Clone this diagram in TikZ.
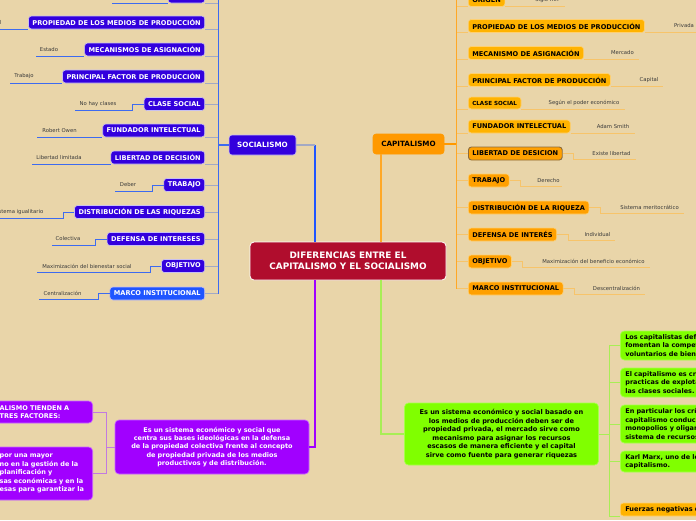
\documentclass[tikz,border=0pt]{standalone}
\usepackage{fontspec}
\setmainfont{DejaVu Sans}
\usepackage{xcolor}
\definecolor{Hgrund}{HTML}{E9D5A9}
\definecolor{Zentral}{HTML}{B00D2D}
\definecolor{SozBlau}{HTML}{3300DD}
\definecolor{SozHell}{HTML}{1F55FF}
\definecolor{SozRand}{HTML}{C8C0F0}
\definecolor{SozLinie}{HTML}{3D6BF0}
\definecolor{SozGrau}{HTML}{A3A9C4}
\definecolor{KapOrange}{HTML}{FF9900}
\definecolor{KapGelb}{HTML}{FFB300}
\definecolor{KapSpaet}{HTML}{FFA000}
\definecolor{KapRand}{HTML}{FFD070}
\definecolor{KapLinie}{HTML}{F7C46A}
\definecolor{KapDunkel}{HTML}{8A6A3C}
\definecolor{Lila}{HTML}{A100FF}
\definecolor{LilaLinie}{HTML}{C27AE0}
\definecolor{Gruen}{HTML}{80FF00}
\definecolor{GruenLinie}{HTML}{A8EE55}
\definecolor{WertText}{HTML}{3A3A3A}

\begin{document}
\begin{tikzpicture}[x=1pt, y=-1pt,
  zweig/.style={rounded corners=3pt, inner xsep=4pt, inner ysep=0pt, minimum height=13pt,
    font=\fontsize{6.6}{8}\selectfont\bfseries, line width=0.6pt},
  sozbox/.style={zweig, fill=SozBlau, draw=SozRand, text=white},
  kapbox/.style={zweig, fill=KapGelb, draw=KapRand, text=black},
  kapspaet/.style={fill=KapSpaet},
  klein/.style={font=\fontsize{5.6}{7}\selectfont\bfseries, minimum height=12pt},
  wert/.style={font=\fontsize{5.3}{6}\selectfont, text=WertText, inner sep=0pt},
  sozlinie/.style={draw=SozLinie, line width=0.8pt},
  sozgrau/.style={draw=SozGrau, line width=0.8pt},
  kaplinie/.style={draw=KapLinie, line width=0.8pt},
  textbox/.style={rounded corners=4pt, line width=0.7pt, inner xsep=4pt, inner ysep=2pt,
    font=\fontsize{6.5}{8.4}\selectfont\bfseries},
  lila/.style={textbox, fill=Lila, draw=Lila!60!white, text=white},
  gruen/.style={textbox, fill=Gruen, draw=Gruen!70!white, text=black}]

  % Rahmen und Hintergrund
  \useasboundingbox (0,0) rectangle (696,520);
  \clip (0,0) rectangle (696,520);
  \fill[Hgrund] (0,0) rectangle (696,520);

  % Hauptknoten
  \node[fill=Zentral, draw=white, line width=0.8pt, rounded corners=4pt, minimum width=196pt,
    minimum height=38pt, text=white, align=center, font=\fontsize{8.9}{11.5}\selectfont\bfseries]
    (diff) at (348,261) {DIFERENCIAS ENTRE EL\\CAPITALISMO Y EL SOCIALISMO};
  \node[sozbox, minimum width=67pt, minimum height=20pt, font=\fontsize{7.2}{8}\selectfont\bfseries]
    (soz) at (262.5,145) {SOCIALISMO};
  \node[kapbox, fill=KapOrange, draw=KapOrange, minimum width=71pt, minimum height=20pt,
    font=\fontsize{7.2}{8}\selectfont\bfseries] (kap) at (408.5,144) {CAPITALISMO};

  \coordinate (sozspine) at (218,-5);
  \coordinate (kapspine) at (456,-5);

  % Makro: Zweig links, Linie unter dem Kasten
  % Parameter: 1=Name, 2=y-Mitte, 3=Kastentext, 4=Wert, 5=x Wert, 6=x Linienanfang, 7=Zusatzstil
  \def\sozunten#1#2#3#4#5#6#7{
    \node[sozbox, anchor=east, #7] (#1) at (205,#2) {#3};
    \node[wert] (#1w) at (#5,#2) {#4};
    \coordinate (#1a) at (#6,#2);
    \draw[sozlinie] (#1a |- #1.south) -- (#1.south west);
    \draw[sozgrau] (#1.south east) -- (#1.south east -| sozspine);
  }
  % Makro: Zweig links, Linie mit Knick
  \def\sozknick#1#2#3#4#5#6#7{
    \node[sozbox, anchor=east, #7] (#1) at (205,#2) {#3};
    \node[wert] (#1w) at (#5,#2) {#4};
    \coordinate (#1a) at (#6,#2+6);
    \coordinate (#1k) at ([xshift=-11pt, yshift=-6pt]#1.west);
    \draw[sozlinie] (#1a) -- (#1k) -- (#1k |- #1.west) -- (#1.west);
    \draw[sozgrau] (#1.east) -- (#1.east -| sozspine);
  }
  % Makro: Zweig rechts, Linie unter dem Kasten
  % Parameter: 1=Name, 2=y-Mitte, 3=Kastentext, 4=Wert, 5=x Wert, 6=x Linienende, 7=Zusatzstil
  \def\kapunten#1#2#3#4#5#6#7{
    \node[kapbox, anchor=west, #7] (#1) at (468,#2) {#3};
    \node[wert] (#1w) at (#5,#2) {#4};
    \coordinate (#1e) at (#6,#2);
    \draw[kaplinie] (#1.south west -| kapspine) -- (#1.south west);
    \draw[kaplinie] (#1.south east) -- (#1e |- #1.south);
  }
  % Makro: Zweig rechts, Linie mit Knick
  \def\kapknick#1#2#3#4#5#6#7{
    \node[kapbox, anchor=west, #7] (#1) at (468,#2) {#3};
    \node[wert] (#1w) at (#5,#2) {#4};
    \coordinate (#1e) at (#6,#2+6);
    \coordinate (#1k) at ([xshift=11pt, yshift=-6pt]#1.east);
    \draw[kaplinie] (#1.west -| kapspine) -- (#1.west);
    \draw[kaplinie] (#1.east) -- (#1k |- #1.east) -- (#1k) -- (#1e);
  }

  % Sozialismus
  \sozunten{sorig}{-3.5}{ORIGEN}{}{130}{112}{}
  \sozunten{sprop}{22.5}{PROPIEDAD DE LOS MEDIOS DE PRODUCCIÓN}{Estatal}{-8}{-5}{}
  \sozunten{smech}{49.5}{MECANISMOS DE ASIGNACIÓN}{Estado}{49}{36}{}
  \sozunten{sfakt}{76.5}{PRINCIPAL FACTOR DE PRODUCCIÓN}{Trabajo}{24}{10}{}
  \sozknick{sklas}{104}{CLASE SOCIAL}{No hay clases}{98}{75}{}
  \sozunten{sfund}{130.5}{FUNDADOR INTELECTUAL}{Robert Owen}{59.5}{37}{}
  \sozunten{sfrei}{157.5}{LIBERTAD DE DECISIÓN}{Libertad limitada}{59}{32}{}
  \sozknick{sarb}{185}{TRABAJO}{Deber}{128}{115}{}
  \sozknick{svert}{212}{DISTRIBUCIÓN DE LAS RIQUEZAS}{Sistema igualitario}{18.5}{-5}{}
  \sozknick{sdef}{239}{DEFENSA DE INTERESES}{Colectiva}{68}{52}{}
  \sozknick{sziel}{266}{OBJETIVO}{Maximización del bienestar social}{87}{37}{}
  \sozknick{smarco}{293.5}{MARCO INSTITUCIONAL}{Centralización}{62.5}{39}{fill=SozHell}
  \draw[sozlinie] (sozspine) -- (sozspine |- smarco.east);
  \draw[sozlinie, line width=1.4pt] (soz.west) -- (soz.west -| sozspine);

  % Kapitalismus
  \kapunten{korig}{0}{ORIGEN}{Siglo XIX}{547}{565}{}
  \kapunten{kprop}{26}{PROPIEDAD DE LOS MEDIOS DE PRODUCCIÓN}{Privada}{684}{700}{}
  \kapunten{kmech}{53}{MECANISMO DE ASIGNACIÓN}{Mercado}{622.5}{639}{}
  \kapunten{kfakt}{80}{PRINCIPAL FACTOR DE PRODUCCIÓN}{Capital}{649}{663}{}
  \kapunten{kklas}{103}{CLASE SOCIAL}{Según el poder económico}{584}{625}{klein}
  \kapunten{kfund}{126.5}{FUNDADOR INTELECTUAL}{Adam Smith}{613}{635}{}
  \kapknick{kfrei}{153.5}{LIBERTAD DE DESICION}{Existe libertad}{611.5}{636}{kapspaet, draw=KapDunkel, line width=0.9pt}
  \kapknick{karb}{180.5}{TRABAJO}{Derecho}{548.5}{562}{kapspaet}
  \kapknick{kvert}{207.5}{DISTRIBUCIÓN DE LA RIQUEZA}{Sistema meritocrático}{649.5}{684}{kapspaet}
  \kapknick{kdef}{234.5}{DEFENSA DE INTERÉS}{Individual}{597.5}{615}{kapspaet}
  \kapknick{kziel}{261.5}{OBJETIVO}{Maximización del beneficio económico}{593.5}{650}{kapspaet}
  \kapknick{kmarco}{288.5}{MARCO INSTITUCIONAL}{Descentralización}{616.5}{645}{kapspaet}
  \draw[draw=KapOrange!85!white, line width=0.9pt] (kapspine) -- (kapspine |- kmarco.west);
  \draw[draw=KapOrange, line width=1.4pt] (kap.east) -- (kap.east -| kapspine);

  % Definitionen unten
  \node[lila, minimum width=190pt, minimum height=54pt, text width=186pt, align=center]
    (sozdef) at (212,447) {Es un sistema económico y social que\\centra sus bases ideológicas en la defensa\\de la propiedad colectiva frente al concepto\\de propiedad privada de los medios\\productivos y de distribución.};
  \node[lila, anchor=east, minimum height=22pt, text width=89pt, align=left]
    (lfakt) at (93,412) {ALISMO TIENDEN A\\TRES FACTORES:};
  \node[lila, anchor=east, minimum height=53pt, text width=89pt, align=left]
    (lkrit) at (93,473.5) {por una mayor\\no en la gestión de la\\planificación y\\sas económicas y en la\\esas para garantizar la};

  \node[gruen, minimum width=191pt, minimum height=62pt, text width=186pt, align=center,
    font=\fontsize{6.6}{8.6}\selectfont\bfseries]
    (kapdef) at (501.5,434) {Es un sistema económico y social basado en\\los medios de producción deben ser de\\propiedad privada, el mercado sirve como\\mecanismo para asignar los recursos\\escasos de manera eficiente y el capital\\sirve como fuente para generar riquezas};
  \node[gruen, anchor=west, minimum height=29pt, text width=90pt, align=left, inner xsep=5pt]
    (gverteid) at (620,345.5) {Los capitalistas def\\fomentan la compet\\voluntarios de biene};
  \node[gruen, anchor=west, minimum height=29pt, text width=90pt, align=left, inner xsep=5pt]
    (gkrit) at (620,382.5) {El capitalismo es cr\\practicas de explota\\las clases sociales.};
  \node[gruen, anchor=west, minimum height=38pt, text width=90pt, align=left, inner xsep=5pt]
    (gmonop) at (620,424) {En particular los crí\\capitalismo conduc\\monopolios y oligar\\sistema de recursos};
  \node[gruen, anchor=west, minimum height=21pt, text width=90pt, align=left, inner xsep=5pt]
    (gmarx) at (620,461.5) {Karl Marx, uno de lo\\capitalismo.};
  \node[zweig, fill=KapGelb, draw=KapRand, anchor=west, text width=90pt, align=left, inner xsep=5pt]
    (gfuerz) at (620,509.5) {Fuerzas negativas d};

  % Verbindungen zum Hauptknoten
  \coordinate (zsoz) at (315,145);
  \coordinate (zkap) at (381,154);
  \coordinate (zlila) at (315,447);
  \coordinate (zgruen) at (381,434);
  \draw[draw=SozHell, line width=1.4pt] (diff.north -| zsoz) -- (zsoz);
  \draw[sozgrau, line width=1.4pt] (zsoz) -- (soz.east);
  \draw[draw=KapOrange!85!white, line width=1.4pt] (kap.south -| zkap) -- (diff.north -| zkap);
  \draw[draw=Lila, line width=1.4pt] (diff.south -| zlila) -- (zlila) -- (sozdef.east);
  \draw[draw=GruenLinie, line width=1.4pt] (diff.south -| zgruen) -- (zgruen) -- (kapdef.west);

  % Unterzweige links (lila)
  \coordinate (lspine) at (106,0);
  \draw[draw=LilaLinie, line width=0.8pt] (sozdef.west) -- (sozdef.west -| lspine);
  \draw[draw=LilaLinie, line width=0.8pt] (lfakt.east) -- (lfakt.east -| lspine) -- (lkrit.east -| lspine) -- (lkrit.east);

  % Unterzweige rechts (gruen)
  \coordinate (gspine) at (609,0);
  \draw[draw=GruenLinie, line width=0.8pt] (kapdef.east) -- (kapdef.east -| gspine);
  \draw[draw=GruenLinie, line width=0.8pt] (gverteid.west) -- (gverteid.west -| gspine) -- (gfuerz.south west -| gspine) -- (gfuerz.south west);
  \draw[draw=GruenLinie, line width=0.8pt] (gkrit.west -| gspine) -- (gkrit.west);
  \draw[draw=GruenLinie, line width=0.8pt] (gmonop.west -| gspine) -- (gmonop.west);
  \draw[draw=GruenLinie, line width=0.8pt] (gmarx.west -| gspine) -- (gmarx.west);

\end{tikzpicture}
\end{document}
